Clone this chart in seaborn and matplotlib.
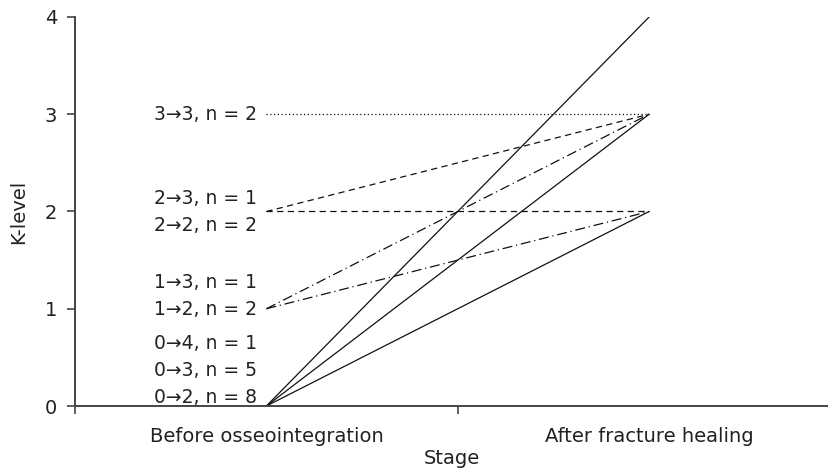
import pandas as pd
import seaborn as sns
import matplotlib.pyplot as plt

# K-level transitions: start level, end level, count
start_level = [0, 0, 0, 1, 1, 2, 2, 3]
end_level = [2, 3, 4, 2, 3, 2, 3, 3]
n_patients = [8, 5, 1, 2, 1, 2, 1, 2]

stages = ['Before osseointegration', 'After fracture healing']
stage_pos = [0.5, 1.5]

# label heights next to the left end
label_y = [0.09, 0.365, 0.645, 0.99, 1.27, 1.86, 2.13, 3.0]

sns.set_theme(style='ticks')
plt.rcParams['font.family'] = ['DejaVu Sans']

rows = []
for i, (s, e) in enumerate(zip(start_level, end_level)):
    rows.append({'path': i, 'stage': stage_pos[0], 'level': s, 'start': s})
    rows.append({'path': i, 'stage': stage_pos[1], 'level': e, 'start': s})
df = pd.DataFrame(rows)

dash_map = {0: '', 1: (8, 3, 1, 3), 2: (5, 3.5), 3: (1, 2)}

fig = plt.figure(figsize=(8.29, 4.69), dpi=100)
ax = fig.add_axes([0.0905, 0.1343, 0.9095, 0.8295])

sns.lineplot(data=df, x='stage', y='level', units='path', estimator=None,
             style='start', dashes=dash_map, color='#111111', linewidth=0.9,
             legend=False, ax=ax)

for s, e, n, y in zip(start_level, end_level, n_patients, label_y):
    ax.text(0.475, y, f'{s}\u2192{e}, n = {n}', ha='right', va='center',
            fontsize=13.5, color='#222222')

ax.set_yticks([0, 1, 2, 3, 4])
ax.set_xticks([0, 1, 2])
ax.set_xticklabels([])
ax.set_xticks(stage_pos, minor=True)
ax.set_xticklabels(stages, minor=True, fontsize=14, color='#222222')
ax.set_xlim(0, 1.97)
ax.set_ylim(0, 4)
ax.tick_params(axis='x', which='minor', length=0, pad=15)
ax.tick_params(axis='both', which='major', length=6, width=1.2, color='#444444',
               labelsize=14, labelcolor='#222222')
ax.tick_params(axis='y', which='major', pad=7)
ax.set_xlabel('Stage', fontsize=14, color='#222222', labelpad=2)
ax.set_ylabel('K-level', fontsize=14, color='#222222', labelpad=12)

sns.despine(ax=ax)
for sp in ['left', 'bottom']:
    ax.spines[sp].set_linewidth(1.4)
    ax.spines[sp].set_color('#444444')

fig.savefig('out.png', dpi=100)
